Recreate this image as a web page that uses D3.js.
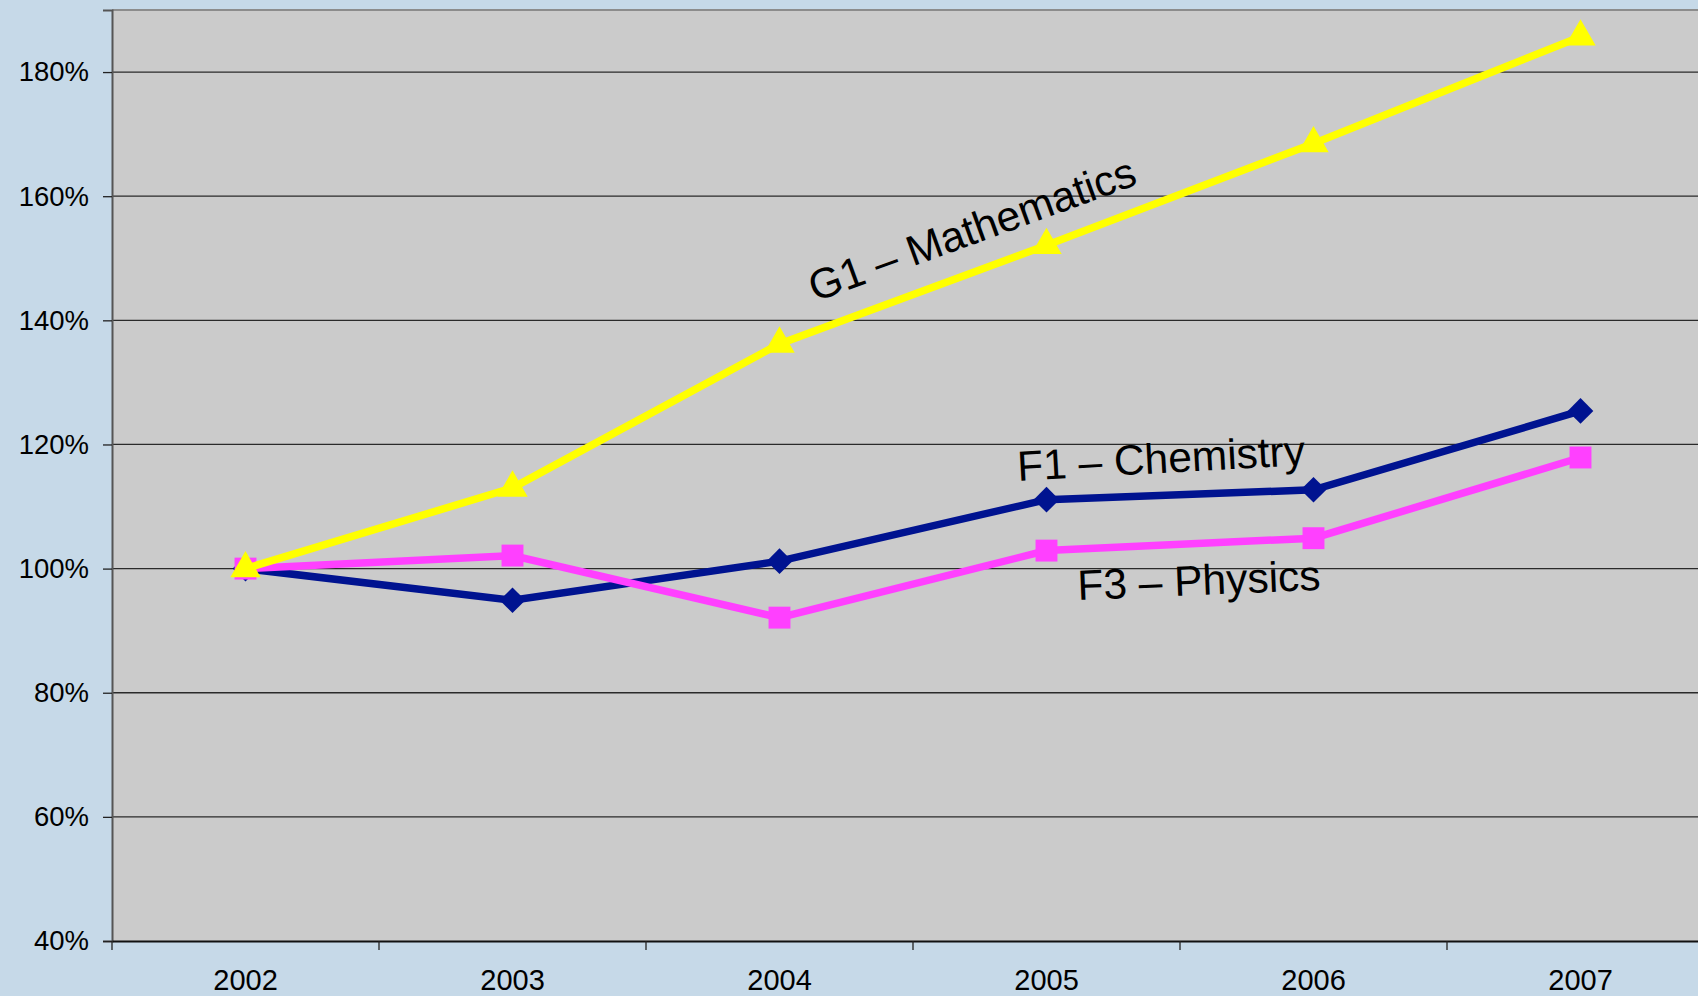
<!DOCTYPE html>
<html>
<head>
<meta charset="utf-8">
<script src="https://cdn.jsdelivr.net/npm/d3@7/dist/d3.min.js"></script>
<style>
  html, body { margin: 0; padding: 0; background: #c6d9e8; overflow: hidden; }
  svg { display: block; }
</style>
</head>
<body>
<svg id="chart" width="1698" height="996"></svg>
<script>
const years = ["2002", "2003", "2004", "2005", "2006", "2007"];
const chemistry = [1.00, 0.949, 1.012, 1.111, 1.127, 1.254];
const physics = [1.00, 1.021, 0.921, 1.029, 1.049, 1.179];
const mathematics = [1.00, 1.130, 1.362, 1.521, 1.685, 1.857];
const yTicks = [0.4, 0.6, 0.8, 1.0, 1.2, 1.4, 1.6, 1.8];
const seriesNames = ["F1 – Chemistry", "F3 – Physics", "G1 – Mathematics"];

(function () {
const svg = d3.select("#chart");
const W = 1698, H = 996;
const pLeft = 112, pRight = 1714, pTop = 10, pBottom = 941;

const x = d3.scaleBand().domain(years).range([pLeft, pRight]).padding(0);
const y = d3.scaleLinear().domain([0.4, 1.9]).range([pBottom, pTop]);

// background
svg.append("rect").attr("width", W).attr("height", H).attr("fill", "#c6d9e8");
svg.append("rect").attr("x", pLeft).attr("y", pTop).attr("width", pRight - pLeft).attr("height", pBottom - pTop)
  .attr("fill", "#cbcbcb");
// top border
svg.append("line").attr("x1", pLeft).attr("x2", pRight).attr("y1", pTop).attr("y2", pTop)
  .attr("stroke", "#8c8c8c").attr("stroke-width", 2);

// gridlines
svg.append("g").selectAll("line").data(yTicks.filter(d => d > 0.4)).join("line")
  .attr("x1", pLeft).attr("x2", pRight)
  .attr("y1", d => y(d)).attr("y2", d => y(d))
  .attr("stroke", "#2a2a2a").attr("stroke-width", 1.3);

// y axis
const yAxis = d3.axisLeft(y).tickValues(yTicks).tickFormat(d3.format(".0%")).tickSize(9).tickPadding(14);
const gy = svg.append("g").attr("transform", `translate(${pLeft},0)`).call(yAxis);
gy.select(".domain").attr("stroke", "#555").attr("stroke-width", 2);
gy.selectAll(".tick line").attr("stroke", "#222").attr("stroke-width", 1.3);
gy.selectAll(".tick text").attr("font-family", "Arial, 'Liberation Sans', sans-serif")
  .attr("font-size", 27.5).attr("fill", "#000");

// x axis
const xAxis = d3.axisBottom(x).tickSize(0).tickPadding(49);
const gx = svg.append("g").attr("transform", `translate(0,${pBottom})`).call(xAxis);
gx.select(".domain").attr("stroke", "#111").attr("stroke-width", 2);
gx.selectAll(".tick text").attr("font-family", "Arial, 'Liberation Sans', sans-serif")
  .attr("font-size", 29).attr("fill", "#000").attr("dy", "0");
// category boundary ticks
svg.append("g").selectAll("line").data(years).join("line")
  .attr("x1", d => x(d)).attr("x2", d => x(d))
  .attr("y1", pBottom).attr("y2", pBottom + 9)
  .attr("stroke", "#222").attr("stroke-width", 1.3);

const cx = d => x(d) + x.bandwidth() / 2;
const line = d3.line().x((d, i) => cx(years[i])).y(d => y(d));

const series = [
  { values: chemistry, color: "#001390", shape: "diamond" },
  { values: physics, color: "#ff40ff", shape: "square" },
  { values: mathematics, color: "#ffff00", shape: "triangle" }
];

const shapeGen = {
  diamond: d3.symbol().type(d3.symbolDiamond2).size(420),
  square: d3.symbol().type(d3.symbolSquare).size(480),
  triangle: d3.symbol().type(d3.symbolTriangle).size(400)
};

series.forEach(s => {
  const g = svg.append("g");
  g.append("path").datum(s.values).attr("d", line)
    .attr("fill", "none").attr("stroke", s.color).attr("stroke-width", 7.5)
    .attr("stroke-linejoin", "miter");
  g.selectAll("path.m").data(s.values).join("path").attr("class", "m")
    .attr("d", shapeGen[s.shape])
    .attr("transform", (d, i) => `translate(${cx(years[i])},${y(d)})`)
    .attr("fill", s.color);
});

// series labels
const labels = [
  { text: seriesNames[2], x: 815, y: 302, rot: -20 },
  { text: seriesNames[0], x: 1018, y: 481, rot: -3.2 },
  { text: seriesNames[1], x: 1078, y: 600, rot: -2.4 }
];
svg.append("g").selectAll("text").data(labels).join("text")
  .attr("transform", d => `translate(${d.x},${d.y}) rotate(${d.rot})`)
  .attr("font-family", "Arial, 'Liberation Sans', sans-serif")
  .attr("font-size", 42.5).attr("fill", "#000")
  .text(d => d.text);
})();
</script>
</body>
</html>
